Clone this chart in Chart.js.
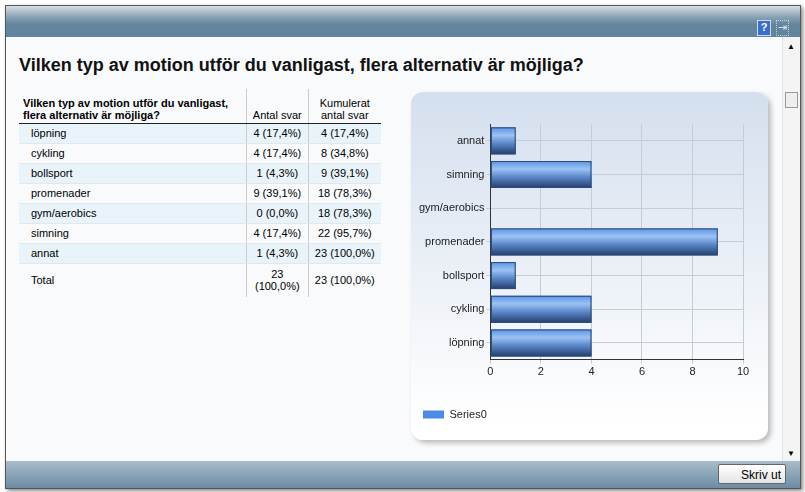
<!DOCTYPE html>
<html><head><meta charset="utf-8">
<script src="https://cdn.jsdelivr.net/npm/chart.js@4"></script>
<style>
body{margin:0;width:805px;height:492px;background:#fff;font-family:"Liberation Sans",Arial,sans-serif;overflow:hidden}
#frame{position:absolute;left:5px;top:5px;width:794px;height:482px;border:1px solid #555;box-shadow:2px 2px 4px #888;background:#f8fafc}
#head{position:absolute;left:0;top:0;width:794px;height:31px;background:linear-gradient(#d7dee4,#8aa3b5 35%,#62849c 60%,#62849c)}
#help{position:absolute;left:751px;top:14px;width:12px;height:14px;background:#3a6fd0;color:#fff;font:bold 11px Arial;text-align:center;border:1px solid #cde}
#exit{position:absolute;left:770px;top:14px;width:11px;height:14px;border:1px dotted #ccd;color:#dde;font:11px Arial;text-align:center}
#foot{position:absolute;left:0;top:455px;width:794px;height:27px;background:linear-gradient(#a9bccb,#6c8ca3)}
#btn{position:absolute;left:712px;top:3px;width:68px;height:20px;border:1px solid #666;border-radius:2px;background:linear-gradient(#fff,#e4e4e4);font-size:12px;line-height:20px;text-align:right;padding-right:4px;box-sizing:border-box}
#scroll{position:absolute;left:776px;top:31px;width:17px;height:424px;background:#f4f4f4;border-left:1px solid #e2e2e2}
#thumb{position:absolute;left:2px;top:55px;width:11px;height:14px;border:1px solid #999;background:#eee}
h1{position:absolute;left:13px;top:49px;margin:0;font-size:18px;font-weight:bold;color:#111}
table{position:absolute;left:13px;top:83px;width:362px;border-collapse:collapse;font-size:11px}
td,th{padding:0 4px;height:19px}
th{font-weight:bold;text-align:left;vertical-align:bottom;border-bottom:1px solid #222;padding-bottom:2px}
th.n{font-weight:normal;text-align:center;border-left:1px solid #ccc}
td.v{text-align:center;border-left:1px solid #ccc}
tr.b td{background:#e8f3fa}
tr.r td{border-bottom:1px solid #e0e8ee}
#panel{position:absolute;left:405px;top:86px;width:357px;height:348px;border-radius:12px;background:linear-gradient(#d4dfee,#fff 95%);box-shadow:3px 3px 5px #bbb}
</style></head><body>
<div id="frame">
<div id="head"><div id="help">?</div><div id="exit">&#8677;</div></div>
<h1>Vilken typ av motion utför du vanligast, flera alternativ är möjliga?</h1>
<table id="tbl"></table>
<div id="panel"><canvas id="c" width="357" height="348"></canvas></div>
<div id="scroll"><div style="position:absolute;top:5px;left:4px;font-size:8px">&#9650;</div><div id="thumb"></div><div style="position:absolute;top:412px;left:4px;font-size:8px">&#9660;</div></div>
<div id="foot"><div id="btn">Skriv ut</div></div>
</div>
<script>
var categories = ["löpning", "cykling", "bollsport", "promenader", "gym/aerobics", "simning", "annat"];
var counts = [4, 4, 1, 9, 0, 4, 1];
var countText = ["4 (17,4%)", "4 (17,4%)", "1 (4,3%)", "9 (39,1%)", "0 (0,0%)", "4 (17,4%)", "1 (4,3%)"];
var cumText = ["4 (17,4%)", "8 (34,8%)", "9 (39,1%)", "18 (78,3%)", "18 (78,3%)", "22 (95,7%)", "23 (100,0%)"];

// table
var html = '<tr style="height:34px"><th>Vilken typ av motion utför du vanligast,<br>flera alternativ är möjliga?</th><th class="n">Antal svar</th><th class="n">Kumulerat<br>antal svar</th></tr>';
categories.forEach(function (c, i) {
    html += '<tr class="r ' + (i % 2 == 0 ? "b" : "") + '"><td style="padding-left:12px">' + c + '</td><td class="v">' + countText[i] + '</td><td class="v">' + cumText[i] + '</td></tr>';
});
html += '<tr style="height:34px"><td style="padding-left:12px;border-top:1px solid #222">Total</td><td class="v" style="border-top:1px solid #222">23<br>(100,0%)</td><td class="v" style="border-top:1px solid #222">23 (100,0%)</td></tr>';
document.getElementById("tbl").innerHTML = html;

// reverse so löpning ends up at bottom
var labels = categories.slice().reverse();
var values = counts.slice().reverse();

var gradBars = {
    id: "gradBars",
    afterDatasetsDraw: function (chart) {
        var ctx = chart.ctx;
        chart.getDatasetMeta(0).data.forEach(function (el) {
            var w = el.x - el.base;
            if (w <= 0) return;
            var top = el.y - el.height / 2;
            var g = ctx.createLinearGradient(0, top, 0, top + el.height);
            g.addColorStop(0, "#5b95e8");
            g.addColorStop(0.3, "#9cc2f4");
            g.addColorStop(0.6, "#5a86c8");
            g.addColorStop(1, "#233e6a");
            ctx.fillStyle = g;
            ctx.fillRect(el.base, top, w, el.height);
            ctx.strokeStyle = "#2d4a78";
            ctx.lineWidth = 1;
            ctx.strokeRect(el.base + 0.5, top + 0.5, w - 1, el.height - 1);
        });
    }
};

new Chart(document.getElementById("c"), {
    type: "bar",
    data: {
        labels: labels,
        datasets: [{ label: "Series0", data: values, backgroundColor: "#4a8be8", barPercentage: 0.8, categoryPercentage: 1 }]
    },
    options: {
        indexAxis: "y",
        responsive: false,
        animation: false,
        layout: { padding: { left: 6, top: 32, right: 25, bottom: 10 } },
        scales: {
            x: {
                min: 0, max: 10,
                ticks: { stepSize: 2, color: "#222", font: { family: "Liberation Sans", size: 11 }, padding: 2 },
                grid: { color: "#c6ccd6", tickLength: 4 },
                border: { color: "#333" },
                afterFit: function (s) { s.height += 22; }
            },
            y: {
                ticks: { color: "#222", font: { family: "Liberation Sans", size: 11 }, padding: 2 },
                grid: { color: "#c6ccd6", tickLength: 4, offset: false },
                border: { color: "#333" }
            }
        },
        plugins: {
            legend: {
                position: "bottom", align: "start",
                labels: { boxWidth: 21, boxHeight: 8, color: "#222", font: { family: "Liberation Sans", size: 11 }, padding: 6 }
            },
            tooltip: { enabled: false }
        }
    },
    plugins: [gradBars]
});
</script>
</body></html>
